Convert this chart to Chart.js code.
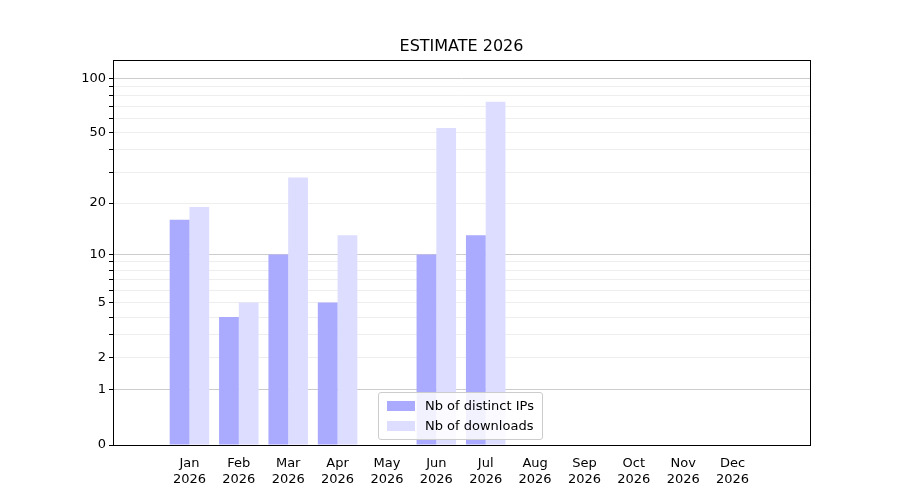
<!DOCTYPE html>
<html>
<head>
<meta charset="utf-8">
<script src="https://cdn.jsdelivr.net/npm/chart.js@4/dist/chart.umd.min.js"></script>
<style>
  body { margin: 0; background: #fff; font-family: "DejaVu Sans", sans-serif; }
  #wrap { position: relative; width: 900px; height: 500px; }
  #titulo { position: absolute; top: 36px; left: 113px; width: 697px; text-align: center; font-size: 16px; color: #000; }
  #leyenda { position: absolute; left: 378px; top: 392px; padding: 3px 8px; border: 1px solid #ccc; border-radius: 3px; background: rgba(255,255,255,0.85); font-size: 13px; line-height: 20px; }
  #leyenda span { display: inline-block; width: 28px; height: 10px; margin-right: 10px; vertical-align: -1px; }
</style>
</head>
<body>
<div id="wrap">
  <canvas id="grafico" width="900" height="500"></canvas>
  <div id="titulo">ESTIMATE 2026</div>
  <div id="leyenda">
    <div><span style="background:#aaaaff"></span>Nb of distinct IPs</div>
    <div><span style="background:#ddddff"></span>Nb of downloads</div>
  </div>
</div>
<script>
const meses = ['Jan', 'Feb', 'Mar', 'Apr', 'May', 'Jun', 'Jul', 'Aug', 'Sep', 'Oct', 'Nov', 'Dec'];
const anio = '2026';
const ips = [16, 4, 10, 5, 0, 10, 13, 0, 0, 0, 0, 0];
const descargas = [19, 5, 28, 13, 0, 53, 74, 0, 0, 0, 0, 0];
const etiquetasY = [0, 1, 2, 5, 10, 20, 50, 100];
const mayores = [1, 10, 100];
const menores = [3, 4, 6, 7, 8, 9, 30, 40, 60, 70, 80, 90];

// escala log10(1 + x)
const f = v => Math.log10(1 + v);
const todasY = [...etiquetasY, ...menores].sort((a, b) => a - b);

const marco = {
  id: 'marco',
  afterDraw(chart) {
    const a = chart.chartArea, ctx = chart.ctx;
    ctx.save();
    ctx.strokeStyle = '#000';
    ctx.lineWidth = 1;
    ctx.strokeRect(a.left + 0.5, a.top + 0.5, a.right - a.left, a.bottom - a.top);
    ctx.restore();
  }
};

new Chart(document.getElementById('grafico'), {
  type: 'bar',
  data: {
    datasets: [
      { label: 'Nb of distinct IPs', data: ips.map((v, i) => ({ x: i, y: f(v) })), backgroundColor: '#aaaaff' },
      { label: 'Nb of downloads', data: descargas.map((v, i) => ({ x: i, y: f(v) })), backgroundColor: '#ddddff' }
    ]
  },
  plugins: [marco],
  options: {
    responsive: false,
    animation: false,
    layout: { padding: { top: 60, right: 90, left: 0, bottom: 0 } },
    categoryPercentage: 0.8,
    barPercentage: 1,
    plugins: { legend: { display: false }, title: { display: false }, tooltip: { enabled: false } },
    scales: {
      x: {
        type: 'linear',
        min: -0.96, max: 11.98,
        afterBuildTicks: s => { s.ticks = meses.map((m, i) => ({ value: i })); },
        afterFit: s => { s.height = 55; },
        ticks: {
          color: '#000', font: { size: 13, family: 'DejaVu Sans' }, maxRotation: 0, autoSkip: false,
          callback: v => [meses[v], anio]
        },
        grid: { display: false, drawTicks: true },
        border: { display: false }
      },
      y: {
        min: 0, max: f(126),
        afterBuildTicks: s => { s.ticks = todasY.map(v => ({ value: f(v) })); },
        afterFit: s => { s.width = 113; },
        ticks: {
          color: '#000', font: { size: 13, family: 'DejaVu Sans' }, autoSkip: false,
          callback: (v, i) => etiquetasY.includes(todasY[i]) ? String(todasY[i]) : ''
        },
        grid: {
          color: c => {
            const t = todasY[c.index];
            if (t === 0) return 'rgba(0,0,0,0)';
            return mayores.includes(t) ? '#cccccc' : '#eeeeee';
          },
          tickColor: '#000', tickLength: 4
        },
        border: { display: false }
      }
    }
  }
});
</script>
</body>
</html>
